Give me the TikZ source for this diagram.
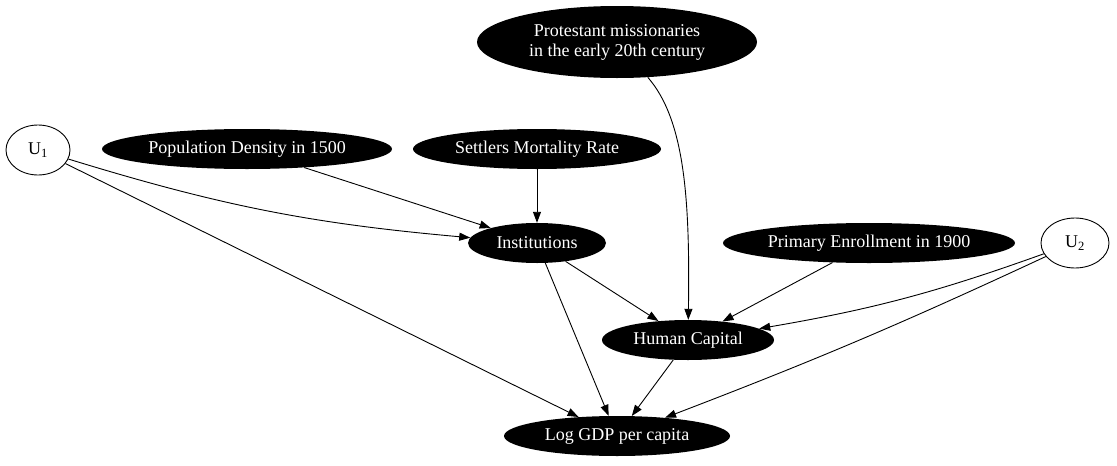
\documentclass[tikz,border=0pt]{standalone}
\usepackage{fontspec}
\setmainfont{Liberation Serif}
\usetikzlibrary{shapes.geometric,arrows.meta}
\begin{document}
\begin{tikzpicture}[x=1pt,y=-1pt,
  base/.style={shape=ellipse,inner sep=0pt,font=\fontsize{18}{20}\selectfont},
  dark/.style={base,fill=black,text=white},
  light/.style={base,draw=black,line width=0.9pt,fill=white},
  edge/.style={draw=black,line width=0.9pt,-{Triangle[length=11pt,width=8pt]}}]
\useasboundingbox (0,0) rectangle (1117,466);
\node[dark,minimum width=280pt,minimum height=72pt,align=center] (prot) at (617,42) {Protestant missionaries\\in the early 20th century};
\node[light,minimum width=64pt,minimum height=50pt] (u1) at (38,150) {U\textsubscript{1}};
\node[dark,minimum width=290pt,minimum height=40pt] (pop) at (247,149) {Population Density in 1500};
\node[dark,minimum width=248pt,minimum height=40pt] (set) at (537,149) {Settlers Mortality Rate};
\node[dark,minimum width=138pt,minimum height=40pt] (inst) at (537,243) {Institutions};
\node[dark,minimum width=292pt,minimum height=40pt] (prim) at (869,243) {Primary Enrollment in 1900};
\node[light,minimum width=68pt,minimum height=50pt] (u2) at (1075,243) {U\textsubscript{2}};
\node[dark,minimum width=172pt,minimum height=40pt] (hc) at (688,340) {Human Capital};
\node[dark,minimum width=226pt,minimum height=40pt] (gdp) at (617,436) {Log GDP per capita};
\draw[edge] (u1) to[bend right=6] (inst);
\draw[edge] (u1) -- (gdp);
\draw[edge] (pop) -- (inst);
\draw[edge] (set) -- (inst);
\draw[edge] (prot) .. controls (685,120) and (690,200) .. (hc);
\draw[edge] (inst) -- (hc);
\draw[edge] (inst) -- (gdp);
\draw[edge] (prim) -- (hc);
\draw[edge] (u2) to[bend left=5] (hc);
\draw[edge] (u2) to[bend left=2] (gdp);
\draw[edge] (hc) -- (gdp);
\end{tikzpicture}
\end{document}
